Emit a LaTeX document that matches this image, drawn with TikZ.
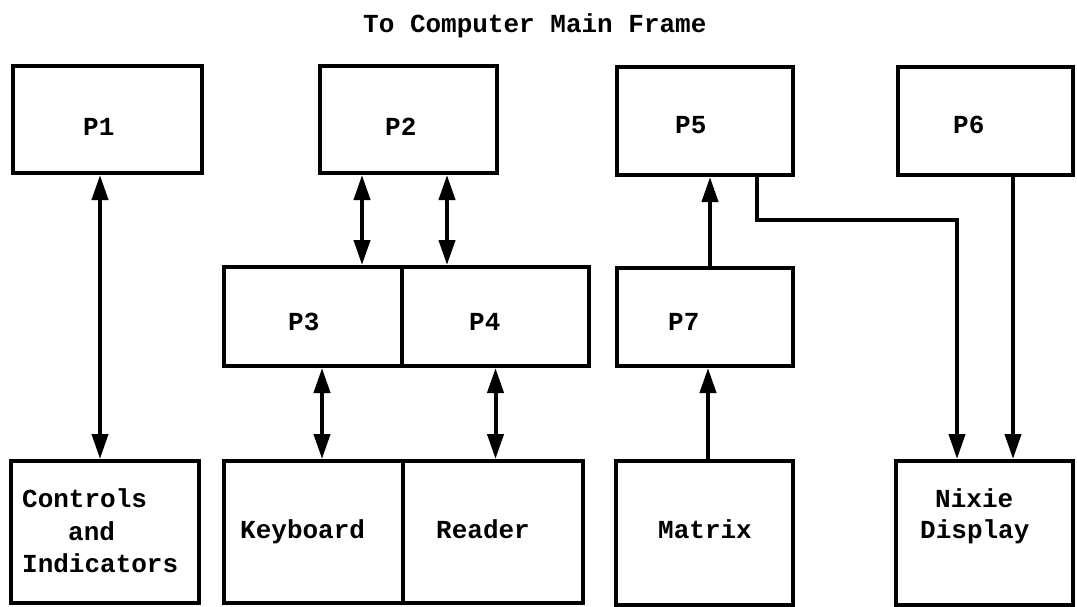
\documentclass[tikz,border=0pt]{standalone}
\usepackage{fontspec}
\setmainfont{Liberation Mono}
\usetikzlibrary{arrows.meta,calc}
\begin{document}
\begin{tikzpicture}[x=1pt,y=-1pt,
  box/.style={draw,line width=4pt,rectangle,inner sep=0pt},
  lbl/.style={inner sep=0pt,anchor=base west,font=\fontsize{26}{33}\selectfont\bfseries},
  conn/.style={line width=4pt},
  dbl/.style={conn,{Triangle[length=25pt,width=16pt]}-{Triangle[length=25pt,width=16pt]}},
  sgl/.style={conn,-{Triangle[length=25pt,width=16pt]}}]
\useasboundingbox (0,0) rectangle (1077,606);
% boxes
\node[box,minimum width=189pt,minimum height=107pt] (P1) at (107.5,119.5) {};
\node[box,minimum width=177pt,minimum height=107pt] (P2) at (408.5,119.5) {};
\node[box,minimum width=176pt,minimum height=108pt] (P5) at (705,121) {};
\node[box,minimum width=175pt,minimum height=108pt] (P6) at (985.5,121) {};
\node[box,minimum width=178pt,minimum height=99pt] (P3) at (313,316.5) {};
\node[box,minimum width=187pt,minimum height=99pt] (P4) at (495.5,316.5) {};
\node[box,minimum width=176pt,minimum height=98pt] (P7) at (705,317) {};
\node[box,minimum width=188pt,minimum height=142pt] (Ctrl) at (105,532) {};
\node[box,minimum width=179pt,minimum height=142pt] (Kbd) at (313.5,532) {};
\node[box,minimum width=180pt,minimum height=142pt] (Rdr) at (493,532) {};
\node[box,minimum width=177pt,minimum height=144pt] (Mtx) at (704.5,533) {};
\node[box,minimum width=177pt,minimum height=144pt] (Nix) at (984.5,533) {};
% labels
\node[lbl] (title) at (363,32) {To Computer Main Frame};
\node[lbl] (P1t) at (83,135) {P1};
\node[lbl] (P2t) at (385,135) {P2};
\node[lbl] (P5t) at (675,133) {P5};
\node[lbl] (P6t) at (953,133) {P6};
\node[lbl] (P3t) at (288,330) {P3};
\node[lbl] (P4t) at (469,330) {P4};
\node[lbl] (P7t) at (668,330) {P7};
\node[lbl] (Ctrl1) at (22,507) {Controls};
\node[lbl] (Ctrl2) at (68,540) {and};
\node[lbl] (Ctrl3) at (22,572) {Indicators};
\node[lbl] (Kbdt) at (240,538) {Keyboard};
\node[lbl] (Rdrt) at (436,538) {Reader};
\node[lbl] (Mtxt) at (658,538) {Matrix};
\node[lbl] (Nix1) at (935,507) {Nixie};
\node[lbl] (Nix2) at (920,538) {Display};
% connectors
\draw[dbl] ([xshift=-7.5pt]P1.south) -- ([xshift=-7.5pt]P1.south |- Ctrl.north);
\draw[dbl] ([xshift=-46.5pt]P2.south) -- ([xshift=-46.5pt]P2.south |- P3.north);
\draw[dbl] ([xshift=38.5pt]P2.south) -- ([xshift=38.5pt]P2.south |- P4.north);
\draw[dbl] ([xshift=9pt]P3.south) -- ([xshift=9pt]P3.south |- Kbd.north);
\draw[dbl] (P4.south) -- (P4.south |- Rdr.north);
\draw[sgl] ([xshift=5pt]P7.north) -- ([xshift=5pt]P7.north |- P5.south);
\draw[sgl] ([xshift=3.5pt]Mtx.north) -- ([xshift=3.5pt]Mtx.north |- P7.south);
\draw[sgl,line join=miter] ([xshift=52pt]P5.south) -- ++(0,43) -| ([xshift=-27.5pt]Nix.north);
\draw[sgl] ([xshift=27.5pt]P6.south) -- ([xshift=27.5pt]P6.south |- Nix.north);
\end{tikzpicture}
\end{document}
